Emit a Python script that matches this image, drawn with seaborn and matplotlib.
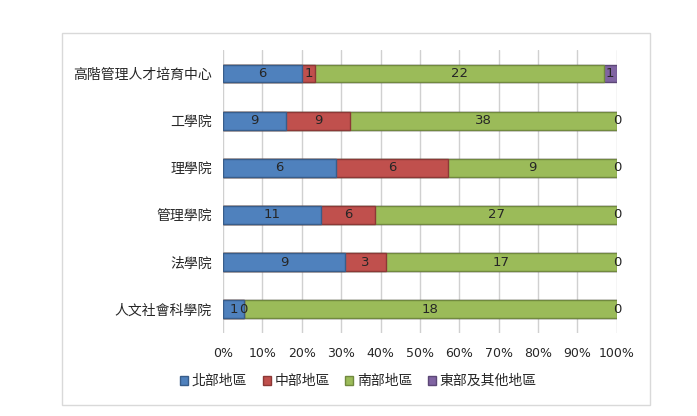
import numpy as np
import pandas as pd
import matplotlib
matplotlib.use('Agg')
import matplotlib.pyplot as plt
import seaborn as sns
from matplotlib.patches import Patch, Rectangle

# Datos del gráfico
colleges = ['高階管理人才培育中心', '工學院', '理學院', '管理學院', '法學院', '人文社會科學院']
regions = ['北部地區', '中部地區', '南部地區', '東部及其他地區']
north = [6, 9, 6, 11, 9, 1]
central = [1, 9, 6, 6, 3, 0]
south = [22, 38, 9, 27, 17, 18]
east = [1, 0, 0, 0, 0, 0]

fill_colors = ['#4f81bd', '#c0504d', '#9bbb59', '#8064a2']
edge_colors = ['#385d8a', '#8c3836', '#71893f', '#5c4776']

sns.set_style('white')
plt.rcParams['font.family'] = ['Noto Sans CJK TC', 'DejaVu Sans']
text_color = '#262626'

counts = np.array([north, central, south, east], dtype=float)
pct = counts / counts.sum(axis=0) * 100
cum = np.cumsum(pct, axis=0)

fig = plt.figure(figsize=(6.97, 4.16), dpi=100)
ax = fig.add_axes([0.32, 0.2, 0.565, 0.68])

# Barras acumuladas: desenha da última série para a primeira
for i in range(len(regions) - 1, -1, -1):
    df_i = pd.DataFrame({'college': colleges, 'value': cum[i]})
    sns.barplot(data=df_i, x='value', y='college', orient='h', color=fill_colors[i],
                saturation=1, width=0.38, edgecolor=edge_colors[i], linewidth=1,
                ax=ax, zorder=3)

# Rótulos no centro de cada segmento
for i in range(len(regions)):
    start = cum[i] - pct[i]
    for j, c in enumerate(colleges):
        ax.text(start[j] + pct[i][j] / 2, j, str(int(counts[i][j])), ha='center', va='center',
                fontsize=9.5, family='DejaVu Sans', color=text_color, zorder=5)

ax.set_xlim(0, 100)
ax.set_ylim(5.5, -0.5)
ax.set_xticks(np.arange(0, 101, 10))
ax.set_xticklabels([f'{t}%' for t in range(0, 101, 10)], family='DejaVu Sans', fontsize=9,
                   color=text_color)
ax.tick_params(axis='x', length=0, pad=10)
ax.tick_params(axis='y', length=0, pad=8, labelsize=10, labelcolor=text_color)
ax.set_xlabel('')
ax.set_ylabel('')
ax.xaxis.grid(True, color='#d0d0d0', linewidth=1, zorder=0)
ax.set_axisbelow(True)
for s in ax.spines.values():
    s.set_visible(False)

handles = [Patch(facecolor=fill_colors[i], edgecolor=edge_colors[i], label=regions[i])
           for i in range(len(regions))]
fig.legend(handles=handles, loc='center', bbox_to_anchor=(0.514, 0.084), ncol=4, frameon=False,
           fontsize=10, handlelength=0.6, handleheight=0.6, handletextpad=0.25,
           columnspacing=1.1, labelcolor=text_color)

# Moldura do gráfico
fig.patches.append(Rectangle((62 / 697, 1 - 405 / 416), 588 / 697, 372 / 416,
                             transform=fig.transFigure, fill=False, edgecolor='#d9d9d9',
                             linewidth=1))

fig.savefig('out.png', dpi=100)
